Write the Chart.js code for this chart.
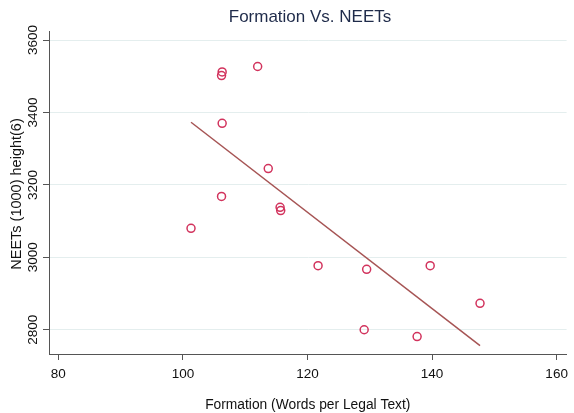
<!DOCTYPE html>
<html>
<head>
  <meta charset="utf-8">
  <title>Formation Vs. NEETs</title>
  <script src="https://cdn.jsdelivr.net/npm/chart.js"></script>
  <style>
    body { margin: 0; background: #fff; }
    #wrap { width: 574px; height: 413px; }
  </style>
</head>
<body>
  <div id="wrap"><canvas id="chart"></canvas></div>
  <script>
    // words per legal text vs NEETs (thousands)
    const formation = [106.3, 106.2, 112.0, 106.3, 113.7, 106.2, 101.3, 115.6, 115.7, 121.7, 129.5, 139.7, 147.7, 129.1, 137.6];
    const neets     = [3512, 3502, 3527, 3370, 3245, 3168, 3080, 3138, 3129, 2977, 2967, 2977, 2873, 2800, 2781];

    // fitted line endpoints
    const fitX = [101.3, 147.7];
    const fitY = [3373, 2756];

    const xTicks = [80, 100, 120, 140, 160];
    const yTicks = [2800, 3000, 3200, 3400, 3600];

    const FONT = "'Liberation Sans', Arial, sans-serif";

    const textPlugin = {
      id: 'stataText',
      afterDraw(chart) {
        const ctx = chart.ctx;
        const y = chart.scales.y;
        ctx.save();
        ctx.fillStyle = '#1f2b4a';
        ctx.font = '17px ' + FONT;
        ctx.textAlign = 'center';
        ctx.textBaseline = 'middle';
        ctx.fillText('Formation Vs. NEETs', 310, 17);

        ctx.fillStyle = '#111';
        yTicks.forEach(v => {
          ctx.save();
          ctx.translate(33, y.getPixelForValue(v));
          ctx.rotate(-Math.PI / 2);
          ctx.font = '13.5px ' + FONT;
          ctx.fillText(String(v), 0, 0);
          ctx.restore();
        });

        ctx.translate(17, 194);
        ctx.rotate(-Math.PI / 2);
        ctx.font = '14.5px ' + FONT;
        ctx.fillText('NEETs (1000) height(6)', 0, 0);
        ctx.restore();
      }
    };

    new Chart(document.getElementById('chart'), {
      data: {
        datasets: [
          {
            type: 'scatter',
            data: formation.map((x, i) => ({ x: x, y: neets[i] })),
            pointStyle: 'circle',
            pointRadius: 4,
            pointBorderWidth: 1.5,
            borderColor: '#d2335d',
            backgroundColor: 'rgba(0,0,0,0)'
          },
          {
            type: 'line',
            data: fitX.map((x, i) => ({ x: x, y: fitY[i] })),
            borderColor: '#a65454',
            borderWidth: 1.5,
            pointRadius: 0,
            fill: false
          }
        ]
      },
      options: {
        responsive: true,
        maintainAspectRatio: false,
        animation: false,
        layout: { padding: { top: 31, right: 4, left: 0, bottom: 0 } },
        plugins: { legend: { display: false }, tooltip: { enabled: false } },
        scales: {
          x: {
            type: 'linear',
            min: 78.5,
            max: 161.6,
            afterBuildTicks: s => { s.ticks = xTicks.map(v => ({ value: v })); },
            afterFit: s => { s.height = 59; },
            border: { color: '#555', width: 1 },
            grid: { drawOnChartArea: false, drawTicks: true, tickLength: 6, tickColor: '#555' },
            ticks: { color: '#111', font: { family: FONT, size: 13.5 }, padding: 6, maxRotation: 0 },
            title: {
              display: true,
              text: 'Formation (Words per Legal Text)',
              color: '#111',
              font: { family: FONT, size: 13.8 },
              padding: { top: 3, bottom: 0 }
            }
          },
          y: {
            type: 'linear',
            min: 2733,
            max: 3625,
            afterBuildTicks: s => { s.ticks = yTicks.map(v => ({ value: v })); },
            afterFit: s => { s.width = 49; },
            border: { color: '#555', width: 1 },
            grid: { color: '#e4eeee', lineWidth: 1, drawTicks: true, tickLength: 6, tickColor: '#555' },
            ticks: { display: false }
          }
        }
      },
      plugins: [textPlugin]
    });
  </script>
</body>
</html>
